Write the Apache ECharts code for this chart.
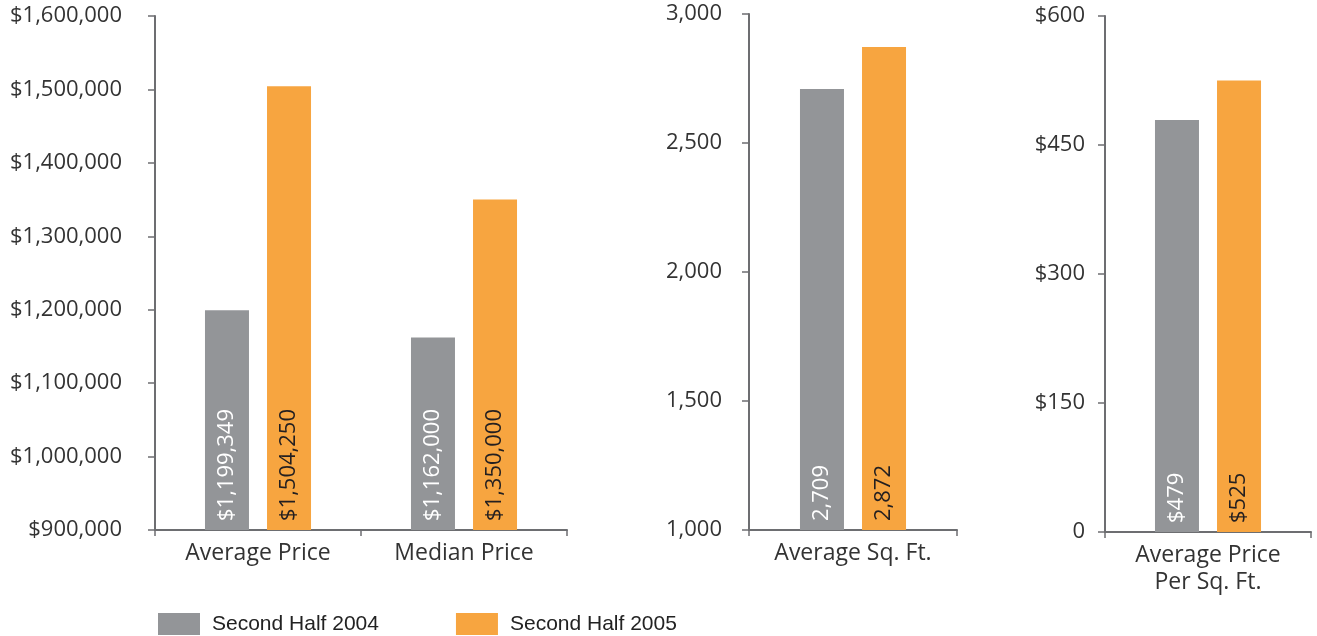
<!DOCTYPE html>
<html><head><meta charset="utf-8">
<script src="https://cdn.jsdelivr.net/npm/echarts@6/dist/echarts.min.js"></script>
<style>html,body{margin:0;padding:0;background:#fff}#c{width:1317px;height:636px}</style>
</head><body><div id="c"></div>
<script>
const seriesNames = ['Second Half 2004', 'Second Half 2005'];
const priceCategories = ['Average Price', 'Median Price'];
const price2004 = [1199349, 1162000];
const price2005 = [1504250, 1350000];
const sqftCategories = ['Average Sq. Ft.'];
const sqft2004 = [2709];
const sqft2005 = [2872];
const ppsfCategories = ['Average Price\nPer Sq. Ft.'];
const ppsf2004 = [479];
const ppsf2005 = [525];

const GRAY = '#939598', ORANGE = '#f7a540', AXIS = '#6d6e71', TXT = '#333333';
const FONT = 'Open Sans';
const fmt = v => Number(v).toLocaleString('en-US');
const dollar = v => '$' + fmt(v);

const chart = echarts.init(document.getElementById('c'));
function xAx(i, cats) {
  return {type: 'category', gridIndex: i, data: cats,
    axisLine: {lineStyle: {color: AXIS, width: 2}},
    axisTick: {show: true, inside: false, length: 6, lineStyle: {color: AXIS, width: 1.5}},
    axisLabel: {color: TXT, fontFamily: FONT, fontSize: 23, margin: 10, lineHeight: 27}};
}
function yAx(i, min, max, interval, formatter, margin) {
  return {type: 'value', gridIndex: i, min, max, interval,
    axisLine: {show: true, lineStyle: {color: AXIS, width: 2}},
    axisTick: {show: true, length: 7, lineStyle: {color: AXIS, width: 1.5}},
    splitLine: {show: false},
    axisLabel: {color: TXT, fontFamily: FONT, fontSize: 22, margin, formatter}};
}
function bar(i, name, data, color, labelColor, labelFmt) {
  return {type: 'bar', name, xAxisIndex: i, yAxisIndex: i, data,
    barWidth: 44, barGap: '41%', itemStyle: {color},
    label: {show: true, position: 'insideBottom', distance: 9, rotate: 90,
      align: 'left', verticalAlign: 'middle', color: labelColor,
      fontFamily: FONT, fontSize: 22, formatter: p => labelFmt(p.value)}};
}
chart.setOption({
  animation: false,
  grid: [
    {left: 155, top: 16, width: 412, height: 514},
    {left: 749, top: 14, width: 208, height: 516},
    {left: 1105, top: 16, width: 206, height: 516}
  ],
  xAxis: [xAx(0, priceCategories), xAx(1, sqftCategories), xAx(2, ppsfCategories)],
  yAxis: [
    yAx(0, 900000, 1600000, 100000, dollar, 33),
    yAx(1, 1000, 3000, 500, fmt, 27),
    yAx(2, 0, 600, 150, v => v === 0 ? '0' : dollar(v), 20)
  ],
  legend: {
    data: seriesNames, left: 158, top: 613, padding: 0, itemWidth: 42, itemHeight: 22, itemGap: 77,
    icon: 'rect', selectedMode: false,
    textStyle: {fontFamily: 'Liberation Sans, Arial', fontSize: 21, color: '#222', padding: [0, 0, 0, 7]}
  },
  series: [
    bar(0, seriesNames[0], price2004, GRAY, '#ffffff', dollar),
    bar(0, seriesNames[1], price2005, ORANGE, '#231f20', dollar),
    bar(1, seriesNames[0], sqft2004, GRAY, '#ffffff', fmt),
    bar(1, seriesNames[1], sqft2005, ORANGE, '#231f20', fmt),
    bar(2, seriesNames[0], ppsf2004, GRAY, '#ffffff', dollar),
    bar(2, seriesNames[1], ppsf2005, ORANGE, '#231f20', dollar)
  ]
});
</script></body></html>
